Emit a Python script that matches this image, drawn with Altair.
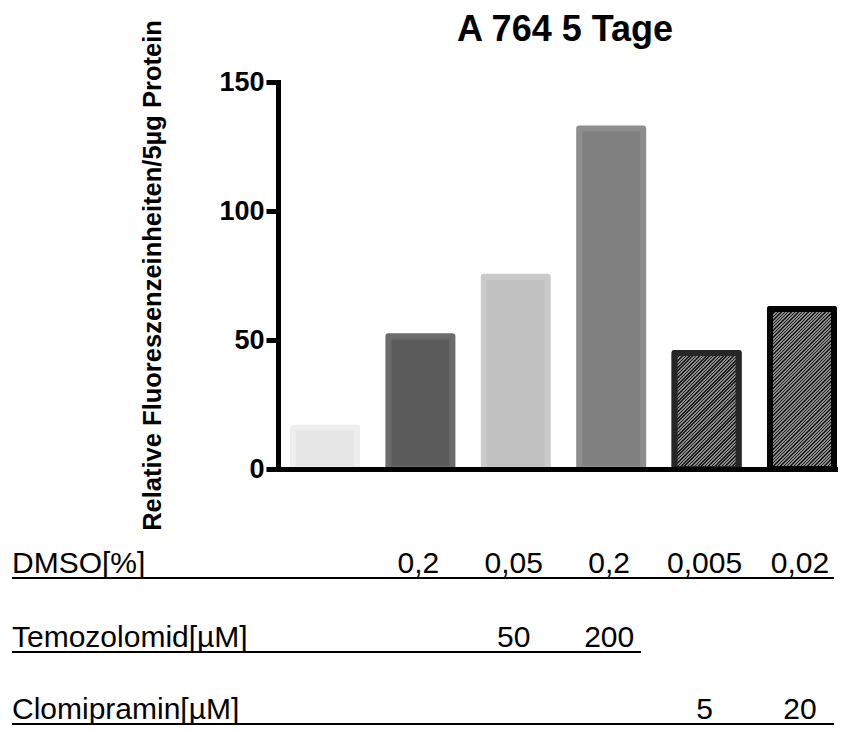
import altair as alt
import pandas as pd

# ---------------- data ----------------
conditions = ["Kontrolle", "DMSO 0,2", "TMZ 50", "TMZ 200", "CLO 5", "CLO 20"]
values = [16, 51.5, 74.5, 132, 45, 62]
fills = ["#e6e6e6", "#5b5b5b", "#c1c1c1", "#808080", "#808080", "#808080"]
strokes = ["#eeeeee", "#6c6c6c", "#cacaca", "#8e8e8e", "#262626", "#050505"]
hatched = [False, False, False, False, True, True]

title_text = "A 764 5 Tage"
y_title = "Relative Fluoreszenzeinheiten/5µg Protein"
y_ticks = [0, 50, 100, 150]

row_labels = ["DMSO[%]", "Temozolomid[µM]", "Clomipramin[µM]"]
dmso = ["", "0,2", "0,05", "0,2", "0,005", "0,02"]
temozolomid = ["", "", "50", "200", "", ""]
clomipramin = ["", "", "", "", "5", "20"]
row_values = [dmso, temozolomid, clomipramin]

# ---------------- layout ----------------
W, H = 560, 387
PAD = {"left": 270, "top": 74, "right": 0, "bottom": 256}
FONT = "Liberation Sans, Arial, sans-serif"
P_INNER, P_OUTER, ALIGN = 0.3291, 0.0996, 0.789
YMAX = 150

df = pd.DataFrame({"cond": conditions, "value": values})

xscale = alt.Scale(domain=conditions, paddingInner=P_INNER, paddingOuter=P_OUTER, align=ALIGN)
yscale = alt.Scale(domain=[0, YMAX], nice=False)

x_enc = alt.X("cond:N", sort=conditions, scale=xscale,
              axis=alt.Axis(labels=False, ticks=False, title=None, domainWidth=5,
                            domainColor="black", domainCap="square", zindex=1, grid=False))
y_enc = alt.Y("value:Q", scale=yscale,
              axis=alt.Axis(values=y_ticks, title=y_title, titleFont=FONT, titleFontSize=25.5,
                            titleFontWeight="bold", titleColor="black", titleAngle=-90,
                            titleX=-118, titleY=193, titleBaseline="alphabetic",
                            titleAlign="center", labelFont=FONT, labelFontSize=27,
                            labelFontWeight="bold", labelColor="black", labelPadding=2,
                            tickSize=12, tickWidth=5, tickColor="black", domainWidth=5,
                            domainColor="black", domainCap="square", grid=False, zindex=1))

bars = alt.Chart(df).mark_bar(strokeWidth=6, strokeJoin="round").encode(
    x=x_enc,
    y=y_enc,
    fill=alt.Fill("cond:N", scale=alt.Scale(domain=conditions, range=fills), legend=None),
    stroke=alt.Stroke("cond:N", scale=alt.Scale(domain=conditions, range=strokes), legend=None),
)

# hatch pattern built as a striped linear gradient (45° lines)
n = len(conditions)
step = W / (n - P_INNER + 2 * P_OUTER)
bw = step * (1 - P_INNER)
PERIOD = 3.4
DARK_FRAC = 0.45


def hatch_gradient(h):
    total = bw + h
    d = PERIOD / total
    stops = []
    k = 0
    while k * d < 1:
        o0 = k * d
        o1 = min(1.0, o0 + d * DARK_FRAC)
        o2 = min(1.0, o0 + d)
        stops += [alt.GradientStop(offset=o0, color="#1c1c1c"),
                  alt.GradientStop(offset=o1, color="#1c1c1c"),
                  alt.GradientStop(offset=o1, color="#8a8a8a"),
                  alt.GradientStop(offset=o2, color="#8a8a8a")]
        k += 1
    s = (bw / h + 1) / ((bw / h) ** 2 + 1)
    return alt.LinearGradient(gradient="linear", stops=stops, x1=0, y1=0,
                              x2=s * bw / h, y2=s)


layers = [bars]
for c, v, st, hz in zip(conditions, values, strokes, hatched):
    if not hz:
        continue
    h = v * H / YMAX
    layers.append(
        alt.Chart(df).transform_filter(alt.datum.cond == c)
        .mark_bar(fill=hatch_gradient(h), stroke=st, strokeWidth=6, strokeJoin="round")
        .encode(x=alt.X("cond:N", sort=conditions), y=alt.Y("value:Q"))
    )

# title
layers.append(
    alt.Chart(pd.DataFrame({"t": [title_text]})).mark_text(
        font=FONT, fontSize=36, fontWeight="bold", align="center",
        baseline="alphabetic", color="black"
    ).encode(x=alt.value(287), y=alt.value(-41), text="t:N")
)

# bottom rows
row_baselines = [491, 565, 637]
row_ends = [556, 363, 556]
for lab, vals, bl, end in zip(row_labels, row_values, row_baselines, row_ends):
    rdf = pd.DataFrame({"cond": conditions, "txt": vals})
    layers.append(
        alt.Chart(rdf).mark_text(font=FONT, fontSize=30, align="center",
                                 baseline="alphabetic", dx=-2, color="black")
        .encode(x=alt.X("cond:N", sort=conditions), y=alt.value(bl), text="txt:N")
    )
    layers.append(
        alt.Chart(pd.DataFrame({"t": [lab]})).mark_text(
            font=FONT, fontSize=30, align="left", baseline="alphabetic", color="black"
        ).encode(x=alt.value(-266), y=alt.value(bl), text="t:N")
    )
    layers.append(
        alt.Chart(pd.DataFrame({"t": [lab]})).mark_rule(strokeWidth=2, color="black")
        .encode(x=alt.value(-266), x2=alt.value(end), y=alt.value(bl + 5))
    )

chart = alt.layer(*layers).properties(
    width=W, height=H,
    autosize=alt.AutoSizeParams(type="none"),
    padding=PAD,
).configure_view(stroke=None)

chart.save("out.html", embed_options={"renderer": "svg", "actions": False})
